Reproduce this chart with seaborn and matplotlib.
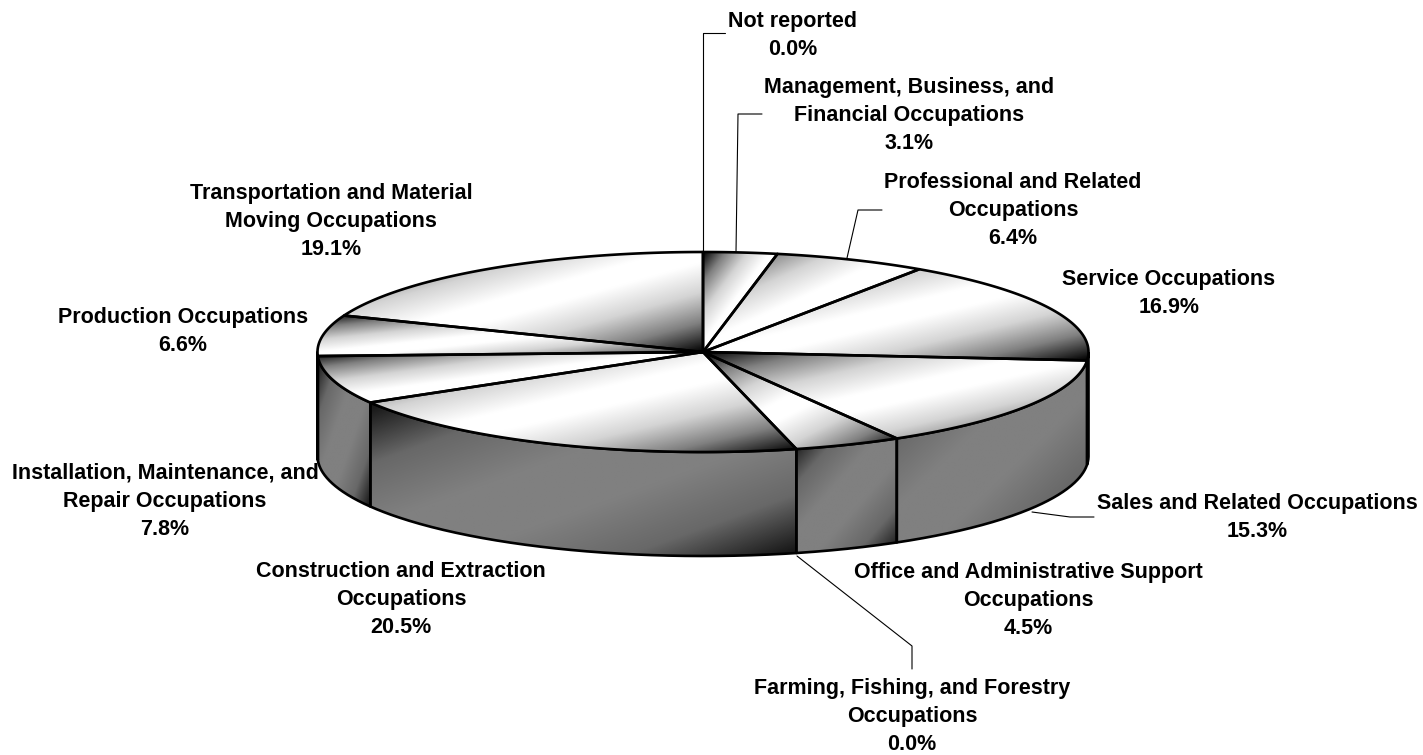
import numpy as np
import matplotlib
matplotlib.use("Agg")
import matplotlib.pyplot as plt
from matplotlib.colors import LinearSegmentedColormap
from matplotlib.path import Path
from matplotlib.patches import PathPatch
import seaborn as sns

categories = ["Management, Business, and\nFinancial Occupations", "Professional and Related\nOccupations",
              "Service Occupations", "Sales and Related Occupations",
              "Office and Administrative Support\nOccupations", "Farming, Fishing, and Forestry\nOccupations",
              "Construction and Extraction\nOccupations", "Installation, Maintenance, and\nRepair Occupations",
              "Production Occupations", "Transportation and Material\nMoving Occupations", "Not reported"]
values = [3.1, 6.4, 16.9, 15.3, 4.5, 0.0, 20.5, 7.8, 6.6, 19.1, 0.0]
label_x = [909, 1013, 1169, 1257, 1028, 912, 401, 165, 183, 331, 793]
label_top = [86, 181, 278, 502, 571, 687, 570, 472, 316, 192, 20]
leaders = [[(736, 252), (738, 114), (762, 114)], [(847, 258), (858, 210), (882, 210)], None,
           [(1032, 512), (1070, 517), (1094, 517)], None,
           [(797, 556), (912, 646), (912, 669)], None, None, None, None,
           [(703, 252), (703, 33), (725, 33)]]

CX, CY, RX, RY, DEPTH = 703, 352, 385.5, 100, 104

sns.set_theme(style="white")
plt.rcParams['font.family'] = ['Liberation Sans', 'DejaVu Sans']


def mirrored(stops):
    pos = [(0.5 - d / 2, c) for d, c in reversed(stops)] + [(0.5 + d / 2, c) for d, c in stops[1:]]
    return LinearSegmentedColormap.from_list("g", pos, N=512)


top_cmap = mirrored([(0, "#ffffff"), (0.1, "#ffffff"), (0.4, "#d4d4d4"), (0.7, "#808080"), (1, "#000000")])
side_cmap = mirrored([(0, "#808080"), (0.2, "#808080"), (0.6, "#686868"), (1, "#101010")])

fig, ax = plt.subplots(figsize=(14.23, 7.55), dpi=100)
ax.set_position([0, 0, 1, 1])
ax.set_axis_off()


def rim(a, b, n=120, dy=0):
    t = np.radians(np.linspace(a, b, n))
    return np.column_stack([CX + RX * np.sin(t), CY + dy - RY * np.cos(t)])


def fill(poly, cmap, z):
    x0, y0 = poly.min(axis=0)
    x1, y1 = poly.max(axis=0)
    gx, gy = np.meshgrid(np.linspace(0, 1, 300), np.linspace(0, 1, 300))
    t = (gx + gy) / 2
    im = ax.imshow(t, extent=(x0, x1, y1, y0), cmap=cmap, vmin=0, vmax=1, zorder=z,
                   aspect="auto", interpolation="bilinear")
    patch = PathPatch(Path(poly, closed=False), fc="none", ec="black", lw=1.9, zorder=z + .5,
                      joinstyle="round")
    ax.add_patch(patch)
    im.set_clip_path(patch)


angles = np.concatenate([[0], np.cumsum(values)]) * 3.6
angles = angles * 360 / angles[-1]
for a, b, v in zip(angles[:-1], angles[1:], values):
    if v == 0:
        continue
    lo, hi = max(a, 90), min(b, 270)
    if lo < hi:
        front = rim(lo, hi)
        back = rim(hi, lo, dy=DEPTH)
        side = np.vstack([front, back, front[:1]])
        fill(side, side_cmap, 2)
    top = np.vstack([[(CX, CY)], rim(a, b), [(CX, CY)]])
    fill(top, top_cmap, 3)

for line in leaders:
    if line:
        xs, ys = zip(*line)
        ax.plot(xs, ys, color="black", lw=0.8, zorder=1)

for name, v, x, y in zip(categories, values, label_x, label_top):
    txt = f"{name}\n{v:.1f}%"
    ax.text(x, y - 9, txt, ha="center", va="top", fontsize=15.5, fontweight="bold",
            color="black", linespacing=1.43, zorder=5)

ax.set_xlim(0, 1423)
ax.set_ylim(755, 0)
fig.savefig("out.png", dpi=100, facecolor="white")
